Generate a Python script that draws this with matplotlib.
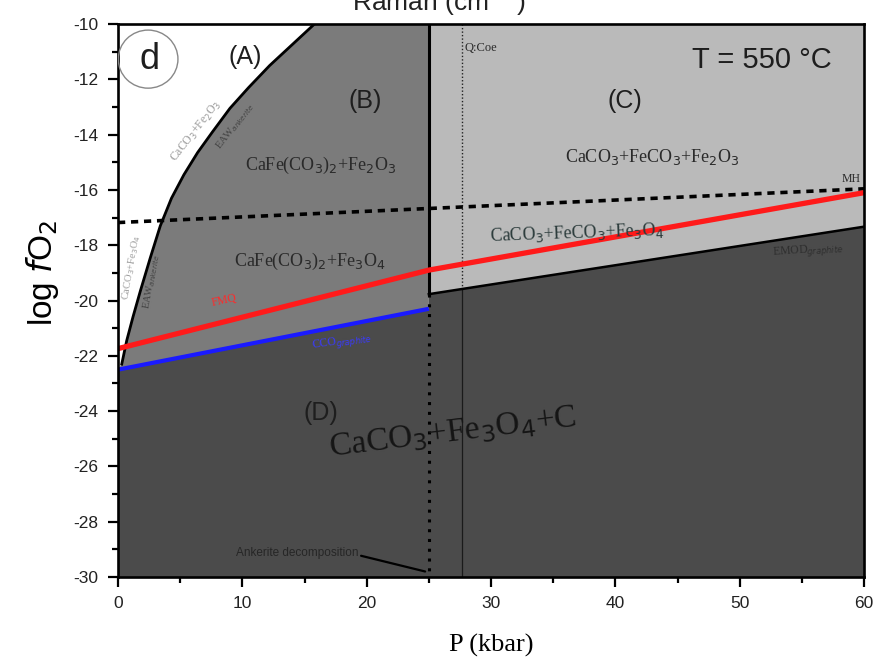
import numpy as np
import matplotlib
matplotlib.use("Agg")
import matplotlib.pyplot as plt
from matplotlib.patches import Polygon, Ellipse
from matplotlib.ticker import MultipleLocator

plt.rcParams["axes.unicode_minus"] = False

# ---- data (P in kbar, log fO2) ----
# CaCO3+Fe2O3 / CaFe(CO3)2 boundary curve
curve_ab_p = [0.3, 0.7, 1.2, 1.8, 2.6, 3.4, 4.3, 5.3, 6.4, 7.6, 9.0, 10.5, 12.2, 14.0, 15.8]
curve_ab_f = [-22.3, -21.45, -20.6, -19.65, -18.45, -17.3, -16.3, -15.45, -14.65, -13.9,
              -13.05, -12.3, -11.5, -10.75, -10.0]
# magnetite-hematite (dashed)
mh_p = [0, 60]
mh_f = [-17.18, -15.96]
# red buffer line
red_p = [0, 25, 60]
red_f = [-21.74, -18.9, -16.1]
# blue buffer line
blue_p = [0, 25]
blue_f = [-22.5, -20.3]
# EMOD line
emod_p = [25, 60]
emod_f = [-19.77, -17.33]
# ankerite decomposition pressure and Q/Coe transition
p_ank = 25.0
p_qcoe = 27.7

xlim = (0, 60)
ylim = (-30, -10)

col_b = "#7b7b7b"
col_c = "#bababa"
col_d = "#4b4b4b"

fig = plt.figure(figsize=(8.84, 6.67), dpi=100)
ax = fig.add_axes([0.1335, 0.1349, 0.8439, 0.8291])
ax.set_xlim(*xlim)
ax.set_ylim(*ylim)

# region B: between blue line and top, 0 < P < 25
poly_b = [(blue_p[0], blue_f[0]), (blue_p[1], blue_f[1]), (p_ank, ylim[1]), (0, ylim[1])]
ax.add_patch(Polygon(poly_b, closed=True, fc=col_b, ec="none", zorder=1))
# region A: white, left of the boundary curve
poly_a = [(0, ylim[1])] + [(0, blue_f[0])] + list(zip(curve_ab_p, curve_ab_f))
ax.add_patch(Polygon(poly_a, closed=True, fc="white", ec="none", zorder=1.1))
# region C: above EMOD, P > 25
poly_c = [(emod_p[0], emod_f[0]), (emod_p[1], emod_f[1]), (xlim[1], ylim[1]), (p_ank, ylim[1])]
ax.add_patch(Polygon(poly_c, closed=True, fc=col_c, ec="none", zorder=1))
# region D: dark, below blue and EMOD
poly_d = [(0, ylim[0]), (0, blue_f[0]), (blue_p[1], blue_f[1]), (emod_p[0], emod_f[0]),
          (emod_p[1], emod_f[1]), (xlim[1], ylim[0])]
ax.add_patch(Polygon(poly_d, closed=True, fc=col_d, ec="none", zorder=1))

# boundary lines
ax.plot(curve_ab_p, curve_ab_f, color="black", lw=2.0, zorder=3, solid_joinstyle="round")
ax.plot(mh_p, mh_f, color="black", lw=2.6, ls=(0, (2.0, 1.6)), zorder=3)
ax.plot(emod_p, emod_f, color="black", lw=1.8, zorder=3)
ax.plot([p_ank, p_ank], [ylim[1], emod_f[0]], color="black", lw=2.2, zorder=3)
ax.plot([p_ank, p_ank], [emod_f[0], ylim[0]], color="black", lw=2.2, ls=(0, (1, 2.2)), zorder=3)
ax.plot([p_qcoe, p_qcoe], [ylim[1], np.interp(p_qcoe, emod_p, emod_f)], color="#222222",
        lw=1.0, ls=(0, (1, 1.5)), zorder=2.5)
ax.plot([p_qcoe, p_qcoe], [np.interp(p_qcoe, emod_p, emod_f), ylim[0]], color="#1a1a1a",
        lw=0.9, zorder=2.5)
ax.plot(red_p, red_f, color="#ff1a1a", lw=3.8, zorder=4, solid_capstyle="butt")
ax.plot(blue_p, blue_f, color="#1a1aff", lw=3.0, zorder=4, solid_capstyle="butt")

# axes styling
for s in ax.spines.values():
    s.set_linewidth(1.9)
    s.set_zorder(6)
ax.xaxis.set_major_locator(MultipleLocator(10))
ax.xaxis.set_minor_locator(MultipleLocator(5))
ax.yaxis.set_major_locator(MultipleLocator(2))
ax.yaxis.set_minor_locator(MultipleLocator(1))
ax.tick_params(which="both", direction="out", top=False, right=False, width=1.6)
ax.tick_params(which="major", length=7, labelsize=12.5, pad=7)
ax.tick_params(which="minor", length=4)
for lab in ax.get_xticklabels() + ax.get_yticklabels():
    lab.set_family("Liberation Sans")
    lab.set_color("#222222")

ax.set_xlabel("P (kbar)", family="Liberation Serif", fontsize=19, labelpad=16)
ax.set_ylabel(r"log $\mathit{f}$O$_2$", family="Liberation Sans", fontsize=24)
ax.yaxis.set_label_coords(-0.076, 0.55)

fig.text(0.497, 0.9835, r"Raman (cm$^{-1}$)", ha="center", va="baseline",
         family="Liberation Sans", fontsize=19, color="#222222")

# region labels
sans = dict(family="Liberation Sans", color="#1e1e1e")
serif = dict(family="Liberation Serif", color="#2a2a2a")
ax.text(2.5, -11.3, "d", fontsize=26, ha="center", va="center", zorder=7, **sans)
ax.add_patch(Ellipse((2.42, -11.27), 4.8, 2.1, fc="none", ec="#888888", lw=1.0, zorder=7))
ax.text(10.2, -11.2, "(A)", fontsize=18, ha="center", va="center", zorder=7, **sans)
ax.text(19.9, -12.8, "(B)", fontsize=18, ha="center", va="center", zorder=7, **sans)
ax.text(40.8, -12.8, "(C)", fontsize=18, ha="center", va="center", zorder=7, **sans)
ax.text(16.3, -24.05, "(D)", fontsize=18, ha="center", va="center", zorder=7, **sans)
ax.text(51.8, -11.3, "T = 550 °C", fontsize=21, ha="center", va="center", zorder=7, **sans)

ax.text(16.3, -15.1, r"CaFe(CO$_3$)$_2$+Fe$_2$O$_3$", fontsize=13, ha="center", va="center", zorder=7, **serif)
ax.text(43.0, -14.8, r"CaCO$_3$+FeCO$_3$+Fe$_2$O$_3$", fontsize=13, ha="center", va="center", zorder=7, **serif)
ax.text(15.4, -18.6, r"CaFe(CO$_3$)$_2$+Fe$_3$O$_4$", fontsize=13, ha="center", va="center", zorder=7, **serif)
ax.text(36.9, -17.55, r"CaCO$_3$+FeCO$_3$+Fe$_3$O$_4$", fontsize=13, ha="center", va="center",
        rotation=2, zorder=7, family="Liberation Serif", color="#2c3c3c")
ax.text(26.9, -24.8, r"CaCO$_3$+Fe$_3$O$_4$+C", fontsize=24, ha="center", va="center",
        rotation=7, zorder=7, family="Liberation Serif", color="#151515")
ax.text(29.2, -10.85, "Q:Coe", fontsize=9, ha="center", va="center", zorder=7, **serif)
ax.text(59.0, -15.6, "MH", fontsize=8.5, ha="center", va="center", zorder=7, **serif)
ax.text(55.5, -18.2, r"EMOD$_{graphite}$", fontsize=8.5, ha="center", va="center", rotation=4,
        zorder=7, family="Liberation Serif", color="#2e2e2e")
ax.text(8.5, -20.0, "FMQ", fontsize=8.5, ha="center", va="center", rotation=12, zorder=7,
        family="Liberation Serif", color="#ff2a2a")
ax.text(18.0, -21.5, r"CCO$_{graphite}$", fontsize=8.5, ha="center", va="center", rotation=8, zorder=7,
        family="Liberation Serif", color="#3a3aff")

# labels along the boundary curve
ax.text(6.3, -13.9, r"CaCO$_3$+Fe$_2$O$_3$", fontsize=8.5, ha="center", va="center", rotation=52,
        zorder=7, family="Liberation Serif", color="#9a9a9a")
ax.text(9.4, -13.7, r"EAW$_{ankerite}$", fontsize=7.5, ha="center", va="center", rotation=52,
        zorder=7, family="Liberation Serif", color="#444444")
ax.text(1.05, -18.8, r"CaCO$_3$+Fe$_3$O$_4$", fontsize=7.5, ha="center", va="center", rotation=80,
        zorder=7, family="Liberation Serif", color="#9a9a9a")
ax.text(2.7, -19.3, r"EAW$_{ankerite}$", fontsize=7.5, ha="center", va="center", rotation=80,
        zorder=7, family="Liberation Serif", color="#444444")

# ankerite decomposition note
ax.annotate("Ankerite decomposition", xy=(24.7, -29.8), xytext=(14.4, -29.12),
            fontsize=8.5, ha="center", va="center", color="#262626", family="Liberation Sans",
            arrowprops=dict(arrowstyle="-", color="black", lw=1.6, shrinkA=0, shrinkB=0,
                            relpos=(1.0, 0.3)), zorder=7)

fig.savefig("out.png", dpi=100)
